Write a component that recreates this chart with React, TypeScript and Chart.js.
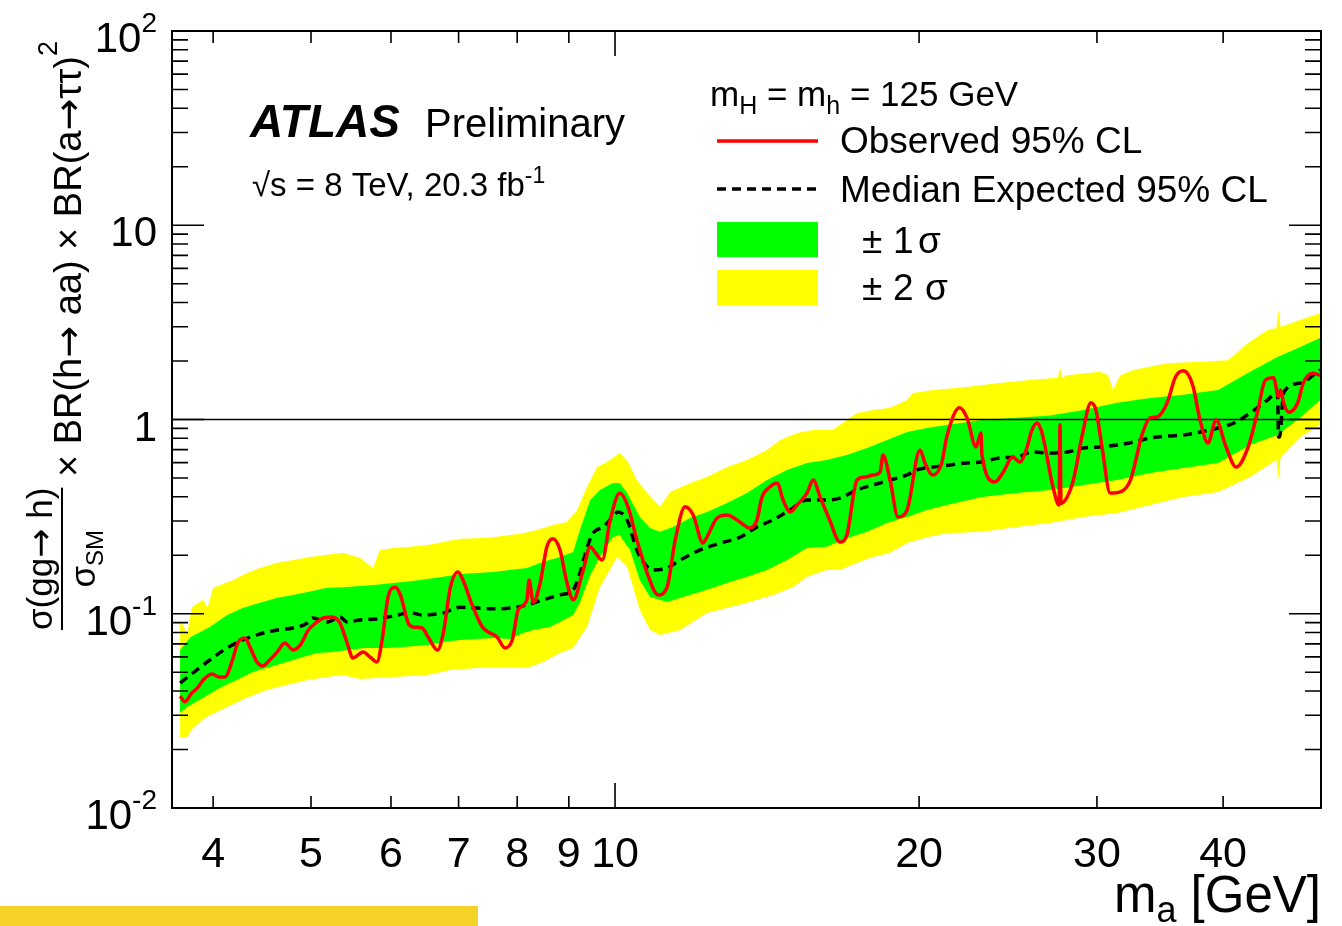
import React, { useEffect, useRef } from "react";
import { Chart, registerables } from "chart.js";

Chart.register(...registerables);

const FONT = '"Liberation Sans", Arial, Helvetica, sans-serif';
const ARROW_FONT = '"DejaVu Sans", "Liberation Sans", sans-serif';

// Observed 95% CL upper limit on sigma/sigma_SM x BR x BR^2 versus m_a [GeV]
const observedMass = [
  3.71, 3.75, 3.81, 3.86, 3.91, 3.99, 4.05, 4.11, 4.18, 4.23,
  4.3, 4.35, 4.42, 4.48, 4.55, 4.63, 4.71, 4.8, 4.88, 4.97,
  5.07, 5.14, 5.25, 5.34, 5.43, 5.5, 5.63, 5.72, 5.81, 5.88,
  5.96, 6.06, 6.13, 6.24, 6.31, 6.44, 6.53, 6.67, 6.76, 6.87,
  6.99, 7.07, 7.22, 7.39, 7.52, 7.64, 7.78, 7.91, 8.02, 8.18,
  8.22, 8.3, 8.43, 8.56, 8.68, 8.82, 8.96, 9.09, 9.3, 9.45,
  9.55, 9.71, 9.89, 10.11, 10.3, 10.51, 10.76, 11.03, 11.26, 11.47,
  11.73, 11.95, 12.22, 12.33, 12.62, 12.91, 13.21, 13.6, 13.82, 13.98,
  14.23, 14.47, 14.67, 14.9, 15.14, 15.49, 15.71, 15.96, 16.31, 16.7,
  16.96, 17.36, 17.68, 18.01, 18.3, 18.42, 18.72, 19.06, 19.46, 20.04,
  20.27, 20.64, 21.06, 21.3, 21.93, 22.31, 22.77, 23.03, 23.08, 23.78,
  24.2, 24.76, 25.16, 25.59, 25.82, 26.17, 26.47, 27.14, 27.52, 27.58,
  27.64, 28.03, 28.43, 29.04, 29.59, 29.93, 30.35, 30.92, 31.64, 32.38,
  33.29, 33.86, 34.41, 35.21, 35.87, 36.54, 37.32, 37.95, 38.64, 39.36,
  40.27, 41.2, 42.35, 43.24, 44.05, 44.87, 45.39, 45.6, 45.91, 46.45,
  47.42, 48.02, 49.04, 49.9,
];
const observedLimit = [
  0.0377, 0.0352, 0.0391, 0.0415, 0.0456, 0.049, 0.0473, 0.0473, 0.0578, 0.0707,
  0.0751, 0.0675, 0.0565, 0.0539, 0.0578, 0.0636, 0.0707, 0.0651, 0.0691, 0.0825,
  0.0907, 0.0951, 0.0963, 0.0897, 0.0707, 0.0592, 0.0636, 0.0599, 0.0565, 0.0733,
  0.122, 0.137, 0.125, 0.0897, 0.0855, 0.0845, 0.076, 0.0651, 0.0796, 0.137,
  0.164, 0.149, 0.111, 0.0855, 0.0796, 0.076, 0.0667, 0.0733, 0.105, 0.118,
  0.149, 0.114, 0.144, 0.221, 0.243, 0.213, 0.145, 0.118, 0.168, 0.221,
  0.208, 0.189, 0.304, 0.418, 0.355, 0.24, 0.162, 0.125, 0.137, 0.24,
  0.355, 0.322, 0.231, 0.248, 0.311, 0.322, 0.304, 0.276, 0.304, 0.399,
  0.449, 0.471, 0.385, 0.334, 0.363, 0.418, 0.488, 0.399, 0.304, 0.234,
  0.254, 0.488, 0.506, 0.518, 0.537, 0.657, 0.488, 0.315, 0.342, 0.697,
  0.597, 0.518, 0.597, 0.813, 1.15, 1.02, 0.722, 0.852, 0.657, 0.477,
  0.531, 0.641, 0.604, 0.722, 0.862, 0.959, 0.852, 0.449, 0.363, 0.94,
  0.37, 0.399, 0.488, 0.852, 1.22, 1.12, 0.722, 0.418, 0.424, 0.488,
  0.852, 1.02, 1.03, 1.22, 1.65, 1.78, 1.5, 0.994, 0.757, 0.994,
  0.722, 0.569, 0.722, 1.08, 1.6, 1.64, 1.31, 1.42, 1.22, 1.09,
  1.22, 1.54, 1.73, 1.69,
];

// Median expected 95% CL limit
const expectedMass = [
  3.71, 3.82, 3.97, 4.13, 4.28, 4.45, 4.63, 4.8, 4.96, 5.02,
  5.19, 5.34, 5.43, 5.59, 5.81, 6.03, 6.27, 6.45, 6.76, 7.02,
  7.3, 7.57, 7.87, 8.18, 8.49, 8.82, 9.09, 9.23, 9.38, 9.51,
  9.73, 9.95, 10.07, 10.28, 10.51, 10.76, 10.91, 11.26, 11.6, 12.14,
  12.71, 13.3, 13.82, 14.33, 14.9, 15.49, 16.06, 16.7, 17.36, 18.01,
  18.72, 19.46, 19.91, 20.64, 21.46, 22.27, 23.08, 24.03, 24.99, 25.88,
  26.96, 28.03, 29.1, 30.21, 31.42, 32.61, 33.86, 35.21, 36.54, 37.95,
  39.54, 41.01, 42.54, 44.26, 45.28, 45.39, 45.5, 45.91, 47.68, 49.9,
];
const expectedLimit = [
  0.044, 0.0496, 0.0578, 0.0667, 0.0733, 0.0787, 0.0825, 0.0845, 0.0897, 0.0951,
  0.0907, 0.0963, 0.0907, 0.0929, 0.094, 0.0974, 0.101, 0.0986, 0.101, 0.108,
  0.107, 0.106, 0.107, 0.111, 0.118, 0.125, 0.133, 0.162, 0.218, 0.26,
  0.28, 0.315, 0.334, 0.304, 0.213, 0.174, 0.168, 0.172, 0.189, 0.213,
  0.231, 0.248, 0.28, 0.304, 0.342, 0.385, 0.385, 0.394, 0.434, 0.46,
  0.488, 0.518, 0.55, 0.569, 0.583, 0.597, 0.604, 0.634, 0.641, 0.68,
  0.672, 0.68, 0.713, 0.722, 0.739, 0.766, 0.803, 0.822, 0.832, 0.862,
  0.904, 0.959, 1.08, 1.26, 1.39, 0.813, 0.813, 1.37, 1.54, 1.8,
];

// +1 sigma edge of the expected band
const band1UpMass = [
  3.71, 3.8, 3.97, 4.13, 4.28, 4.45, 4.63, 4.8, 4.99, 5.19,
  5.38, 5.59, 5.81, 6.03, 6.27, 6.52, 6.76, 7.02, 7.3, 7.57,
  7.87, 8.18, 8.49, 8.82, 9.09, 9.23, 9.45, 9.66, 9.95, 10.11,
  10.28, 10.58, 10.83, 11.08, 11.41, 11.87, 12.33, 12.91, 13.51, 14.14,
  14.8, 15.49, 16.2, 16.96, 17.76, 18.59, 19.46, 20.36, 21.3, 23.08,
  24.99, 26.96, 29.1, 31.42, 33.86, 36.54, 39.54, 42.54, 45.28, 47.68,
  49.9,
];
const band1Up = [
  0.0651, 0.076, 0.0855, 0.0986, 0.107, 0.114, 0.121, 0.125, 0.13, 0.136,
  0.137, 0.139, 0.141, 0.144, 0.147, 0.151, 0.155, 0.16, 0.162, 0.164,
  0.168, 0.172, 0.185, 0.196, 0.208, 0.27, 0.385, 0.434, 0.471, 0.471,
  0.418, 0.315, 0.276, 0.264, 0.28, 0.311, 0.334, 0.372, 0.418, 0.488,
  0.55, 0.597, 0.619, 0.657, 0.713, 0.784, 0.862, 0.904, 0.937, 0.994,
  1.02, 1.05, 1.12, 1.22, 1.29, 1.34, 1.42, 1.76, 2.1, 2.36,
  2.63,
];

// -1 sigma edge of the expected band
const band1DownMass = [
  3.71, 3.77, 3.91, 4.06, 4.22, 4.38, 4.55, 4.73, 4.91, 5.07,
  5.26, 5.43, 5.66, 5.95, 6.17, 6.52, 6.76, 7.02, 7.3, 7.57,
  7.87, 8.11, 8.3, 8.62, 8.82, 9.09, 9.23, 9.45, 9.66, 9.95,
  10.11, 10.18, 10.35, 10.58, 10.83, 11.26, 11.68, 12.33, 12.91, 13.51,
  14.14, 14.8, 15.49, 16.2, 16.96, 17.76, 18.59, 19.46, 20.36, 21.3,
  23.08, 24.99, 26.96, 29.1, 31.42, 33.86, 36.54, 39.54, 42.54, 45.28,
  47.68, 49.9,
];
const band1Down = [
  0.0309, 0.0331, 0.0369, 0.0415, 0.0456, 0.0502, 0.0532, 0.0565, 0.0599, 0.0628,
  0.0636, 0.0651, 0.0667, 0.0667, 0.0675, 0.0691, 0.0716, 0.0733, 0.0742, 0.0751,
  0.0742, 0.0796, 0.0825, 0.0855, 0.0907, 0.0986, 0.114, 0.158, 0.196, 0.248,
  0.254, 0.24, 0.213, 0.149, 0.122, 0.115, 0.122, 0.133, 0.144, 0.155,
  0.168, 0.189, 0.218, 0.221, 0.245, 0.264, 0.293, 0.315, 0.342, 0.363,
  0.399, 0.418, 0.434, 0.46, 0.488, 0.531, 0.563, 0.597, 0.739, 0.832,
  1.02, 1.26,
];

// +2 sigma edge of the expected band
const band2UpMass = [
  3.71, 3.77, 3.81, 3.91, 3.95, 4.0, 4.19, 4.32, 4.45, 4.63,
  4.8, 4.99, 5.19, 5.38, 5.59, 5.76, 5.85, 6.03, 6.27, 6.52,
  6.76, 7.02, 7.3, 7.57, 7.87, 8.11, 8.37, 8.68, 8.96, 9.17,
  9.38, 9.6, 9.82, 10.11, 10.3, 10.51, 10.76, 11.08, 11.34, 11.87,
  12.33, 12.91, 13.51, 14.14, 14.57, 15.14, 15.71, 16.42, 16.96, 17.36,
  18.01, 18.72, 19.46, 19.73, 20.64, 22.27, 24.03, 25.88, 27.45, 27.58,
  27.71, 28.03, 30.21, 30.77, 31.13, 31.64, 32.61, 35.21, 37.95, 40.45,
  42.35, 44.26, 45.18, 45.39, 45.6, 47.68, 49.9,
];
const band2Up = [
  0.0929, 0.0796, 0.108, 0.118, 0.107, 0.136, 0.149, 0.162, 0.172, 0.183,
  0.189, 0.196, 0.201, 0.206, 0.194, 0.172, 0.213, 0.218, 0.221, 0.226,
  0.234, 0.243, 0.245, 0.248, 0.254, 0.26, 0.27, 0.286, 0.297, 0.342,
  0.449, 0.569, 0.604, 0.672, 0.604, 0.488, 0.418, 0.355, 0.424, 0.471,
  0.506, 0.569, 0.619, 0.697, 0.784, 0.852, 0.883, 0.883, 0.994, 1.08,
  1.12, 1.15, 1.26, 1.37, 1.42, 1.47, 1.54, 1.6, 1.64, 1.86,
  1.64, 1.69, 1.76, 1.69, 1.42, 1.69, 1.8, 1.95, 1.98, 2.02,
  2.48, 2.89, 2.96, 3.66, 2.99, 3.25, 3.53,
];

// -2 sigma edge of the expected band
const band2DownMass = [
  3.71, 3.77, 3.82, 3.94, 4.13, 4.32, 4.52, 4.73, 4.96, 5.19,
  5.38, 5.59, 6.03, 6.52, 6.87, 7.3, 7.87, 8.18, 8.49, 8.82,
  9.09, 9.38, 9.66, 10.05, 10.28, 10.58, 10.83, 11.08, 11.6, 12.33,
  12.91, 13.51, 14.33, 15.0, 15.49, 16.2, 16.7, 17.36, 18.01, 18.72,
  19.46, 20.36, 21.3, 23.08, 24.99, 26.96, 29.1, 31.42, 33.86, 36.54,
  39.54, 42.54, 45.18, 45.39, 45.6, 47.68, 49.9,
];
const band2Down = [
  0.0232, 0.0232, 0.0258, 0.0294, 0.0331, 0.0369, 0.0405, 0.043, 0.0456, 0.0473,
  0.0484, 0.0462, 0.0473, 0.0484, 0.0514, 0.0526, 0.0532, 0.0526, 0.0565, 0.0628,
  0.0667, 0.0855, 0.137, 0.196, 0.174, 0.105, 0.0825, 0.0778, 0.0825, 0.101,
  0.107, 0.114, 0.125, 0.137, 0.155, 0.168, 0.168, 0.183, 0.196, 0.206,
  0.231, 0.248, 0.26, 0.264, 0.28, 0.293, 0.315, 0.33, 0.363, 0.399,
  0.424, 0.506, 0.62, 0.488, 0.64, 0.813, 0.937,
];

// Reference line at the SM expectation
const unityMass = [3.642, 50.0];
const unityLevel = [1, 1];

const X_MIN = 3.642;
const X_MAX = 50.0;
const Y_MIN = 0.01;
const Y_MAX = 100;

const xTickValues = [4, 5, 6, 7, 8, 9, 10, 20, 30, 40];
const xTickLabels = ["4", "5", "6", "7", "8", "9", "10", "20", "30", "40"];
const yDecadeValues = [0.01, 0.1, 1, 10, 100];
const yDecadeBase = ["10", "10", "1", "10", "10"];
const yDecadeExp = ["-2", "-1", "", "", "2"];

const RED = "#ff0000";
const GREEN = "#00ff00";
const YELLOW = "#ffff00";

type Run = {
  t: string;
  size: number;
  dy?: number;
  bold?: boolean;
  italic?: boolean;
  family?: string;
};

function setFont(ctx: CanvasRenderingContext2D, r: Run) {
  ctx.font = `${r.italic ? "italic " : ""}${r.bold ? "bold " : ""}${r.size}px ${r.family ?? FONT}`;
}

function runsWidth(ctx: CanvasRenderingContext2D, runs: Run[]) {
  let w = 0;
  for (const r of runs) {
    setFont(ctx, r);
    w += ctx.measureText(r.t).width;
  }
  return w;
}

function drawRuns(ctx: CanvasRenderingContext2D, runs: Run[], x: number, y: number) {
  let cx = x;
  for (const r of runs) {
    setFont(ctx, r);
    ctx.fillText(r.t, cx, y + (r.dy ?? 0));
    cx += ctx.measureText(r.t).width;
  }
  return cx;
}

const pts = (xs: number[], ys: number[]) => xs.map((x, i) => ({ x, y: ys[i] }));

const decorations = {
  id: "atlasDecorations",
  afterDraw(chart: any) {
    const { ctx, chartArea: a } = chart;
    const xs = chart.scales.x;
    const ys = chart.scales.y;
    ctx.save();
    ctx.fillStyle = "#000";
    ctx.strokeStyle = "#000";
    ctx.textAlign = "left";
    ctx.textBaseline = "alphabetic";

    // tick marks on all four sides
    ctx.lineWidth = 1.6;
    ctx.beginPath();
    for (let e = -2; e <= 1; e++) {
      for (let k = 1; k <= 9; k++) {
        const v = k * Math.pow(10, e);
        if (v <= Y_MIN * 1.0001) continue;
        const py = ys.getPixelForValue(v);
        const len = k === 1 ? 32 : 16;
        ctx.moveTo(a.left, py);
        ctx.lineTo(a.left + len, py);
        ctx.moveTo(a.right, py);
        ctx.lineTo(a.right - len, py);
      }
    }
    xTickValues.forEach((v) => {
      const px = xs.getPixelForValue(v);
      const len = v === 10 ? 25 : 12;
      ctx.moveTo(px, a.bottom);
      ctx.lineTo(px, a.bottom - len);
      ctx.moveTo(px, a.top);
      ctx.lineTo(px, a.top + len);
    });
    ctx.stroke();

    // frame
    ctx.lineWidth = 2;
    ctx.strokeRect(a.left, a.top, a.right - a.left, a.bottom - a.top);

    // y tick labels (powers of ten)
    const labelRight = a.left - 15;
    yDecadeValues.forEach((v, i) => {
      const py = ys.getPixelForValue(v);
      const exp = yDecadeExp[i];
      let expW = 0;
      if (exp) {
        ctx.font = `28px ${FONT}`;
        expW = ctx.measureText(exp).width;
        ctx.fillText(exp, labelRight - expW, py + 1);
      }
      ctx.font = `42px ${FONT}`;
      const w = ctx.measureText(yDecadeBase[i]).width;
      ctx.fillText(yDecadeBase[i], labelRight - expW - w, py + 21);
    });

    // x tick labels
    ctx.font = `43px ${FONT}`;
    ctx.textAlign = "center";
    xTickValues.forEach((v, i) => {
      ctx.fillText(xTickLabels[i], xs.getPixelForValue(v), 867);
    });
    ctx.textAlign = "left";

    // x axis title
    const xTitle: Run[] = [
      { t: "m", size: 51 },
      { t: "a", size: 36, dy: 10 },
      { t: " [GeV]", size: 51 },
    ];
    drawRuns(ctx, xTitle, a.right - runsWidth(ctx, xTitle), 912);

    // y axis title, rotated
    const arrow = (size: number): Run => ({ t: "→", size, family: ARROW_FONT });
    ctx.save();
    ctx.translate(0, 630);
    ctx.rotate(-Math.PI / 2);
    const num: Run[] = [{ t: "σ(gg", size: 35 }, arrow(35), { t: " h)", size: 35 }];
    const den: Run[] = [
      { t: "σ", size: 35 },
      { t: "SM", size: 24, dy: 8 },
    ];
    const numW = runsWidth(ctx, num);
    const denW = runsWidth(ctx, den);
    const fracW = Math.max(numW, denW);
    drawRuns(ctx, num, (fracW - numW) / 2, 52);
    drawRuns(ctx, den, (fracW - denW) / 2, 95);
    ctx.fillRect(0, 61, fracW, 2);
    drawRuns(
      ctx,
      [
        { t: " × BR(h", size: 38 },
        arrow(38),
        { t: " aa) × BR(a", size: 38 },
        arrow(38),
        { t: "ττ)", size: 38 },
        { t: "2", size: 27, dy: -24 },
      ],
      fracW,
      81
    );
    ctx.restore();

    // experiment label
    drawRuns(ctx, [{ t: "ATLAS", size: 46, bold: true, italic: true }], 250, 137);
    drawRuns(ctx, [{ t: "Preliminary", size: 40 }], 425, 137);
    drawRuns(
      ctx,
      [
        { t: "√s = 8 TeV, 20.3 fb", size: 33 },
        { t: "-1", size: 23, dy: -13 },
      ],
      252,
      196
    );

    // legend
    drawRuns(
      ctx,
      [
        { t: "m", size: 35 },
        { t: "H", size: 25, dy: 8 },
        { t: " = m", size: 35 },
        { t: "h", size: 25, dy: 8 },
        { t: " = 125 GeV", size: 35 },
      ],
      710,
      106
    );
    ctx.lineWidth = 3.5;
    ctx.strokeStyle = RED;
    ctx.beginPath();
    ctx.moveTo(717, 141);
    ctx.lineTo(818, 141);
    ctx.stroke();
    ctx.strokeStyle = "#000";
    ctx.lineWidth = 3.5;
    ctx.setLineDash([9, 6]);
    ctx.beginPath();
    ctx.moveTo(717, 189);
    ctx.lineTo(818, 189);
    ctx.stroke();
    ctx.setLineDash([]);
    ctx.fillStyle = GREEN;
    ctx.fillRect(717, 222, 101, 35);
    ctx.fillStyle = YELLOW;
    ctx.fillRect(717, 270, 101, 35);
    ctx.fillStyle = "#000";
    ctx.font = `37px ${FONT}`;
    ctx.fillText("Observed 95% CL", 840, 153);
    ctx.fillText("Median Expected 95% CL", 840, 202);
    ctx.fillText("±", 862, 253);
    ctx.fillText("1", 893, 253);
    ctx.fillText("σ", 918, 253);
    ctx.fillText("±", 862, 300);
    ctx.fillText("2", 893, 300);
    ctx.fillText("σ", 925, 300);

    ctx.restore();
  },
};

export default function App() {
  const canvasRef = useRef<HTMLCanvasElement | null>(null);

  useEffect(() => {
    const canvas = canvasRef.current;
    if (!canvas) return;
    const edge = (xs: number[], ys: number[], order: number, fill: any, color: string) => ({
      data: pts(xs, ys),
      borderColor: "rgba(0,0,0,0)",
      borderWidth: 1,
      backgroundColor: color,
      fill,
      order,
      pointRadius: 0,
      tension: 0,
    });
    const chart = new Chart(canvas, {
      type: "line",
      data: {
        datasets: [
          {
            label: "Observed 95% CL",
            data: pts(observedMass, observedLimit),
            borderColor: RED,
            borderWidth: 3.5,
            pointRadius: 0,
            fill: false,
            cubicInterpolationMode: "monotone",
            borderJoinStyle: "round",
            order: 1,
          },
          {
            label: "Median Expected 95% CL",
            data: pts(expectedMass, expectedLimit),
            borderColor: "#000",
            borderWidth: 3.5,
            borderDash: [9, 6],
            pointRadius: 0,
            fill: false,
            cubicInterpolationMode: "monotone",
            order: 2,
          },
          {
            label: "SM",
            data: pts(unityMass, unityLevel),
            borderColor: "#000",
            borderWidth: 1.5,
            pointRadius: 0,
            fill: false,
            order: 3,
          },
          { label: "+1σ", ...edge(band1UpMass, band1Up, 4, 4, GREEN) },
          { label: "-1σ", ...edge(band1DownMass, band1Down, 4, false, GREEN) },
          { label: "+2σ", ...edge(band2UpMass, band2Up, 5, 6, YELLOW) },
          { label: "-2σ", ...edge(band2DownMass, band2Down, 5, false, YELLOW) },
        ] as any,
      },
      options: {
        animation: false,
        responsive: false,
        maintainAspectRatio: false,
        devicePixelRatio: 1,
        events: [],
        layout: { padding: { left: 172, right: 21, top: 31, bottom: 118 } },
        plugins: {
          legend: { display: false },
          tooltip: { enabled: false },
          title: { display: false },
        },
        scales: {
          x: { type: "logarithmic", min: X_MIN, max: X_MAX, bounds: "data", display: false },
          y: { type: "logarithmic", min: Y_MIN, max: Y_MAX, bounds: "data", display: false },
        },
      } as any,
      plugins: [decorations],
    });
    return () => chart.destroy();
  }, []);

  return (
    <div
      style={{
        position: "fixed",
        left: 0,
        top: 0,
        width: 1342,
        height: 926,
        background: "#fff",
        overflow: "hidden",
      }}
    >
      <canvas
        ref={canvasRef}
        width={1342}
        height={926}
        style={{ display: "block", width: 1342, height: 926 }}
      />
      <div
        style={{
          position: "absolute",
          left: 0,
          top: 906,
          width: 478,
          height: 20,
          background: "#f5d228",
        }}
      />
    </div>
  );
}
